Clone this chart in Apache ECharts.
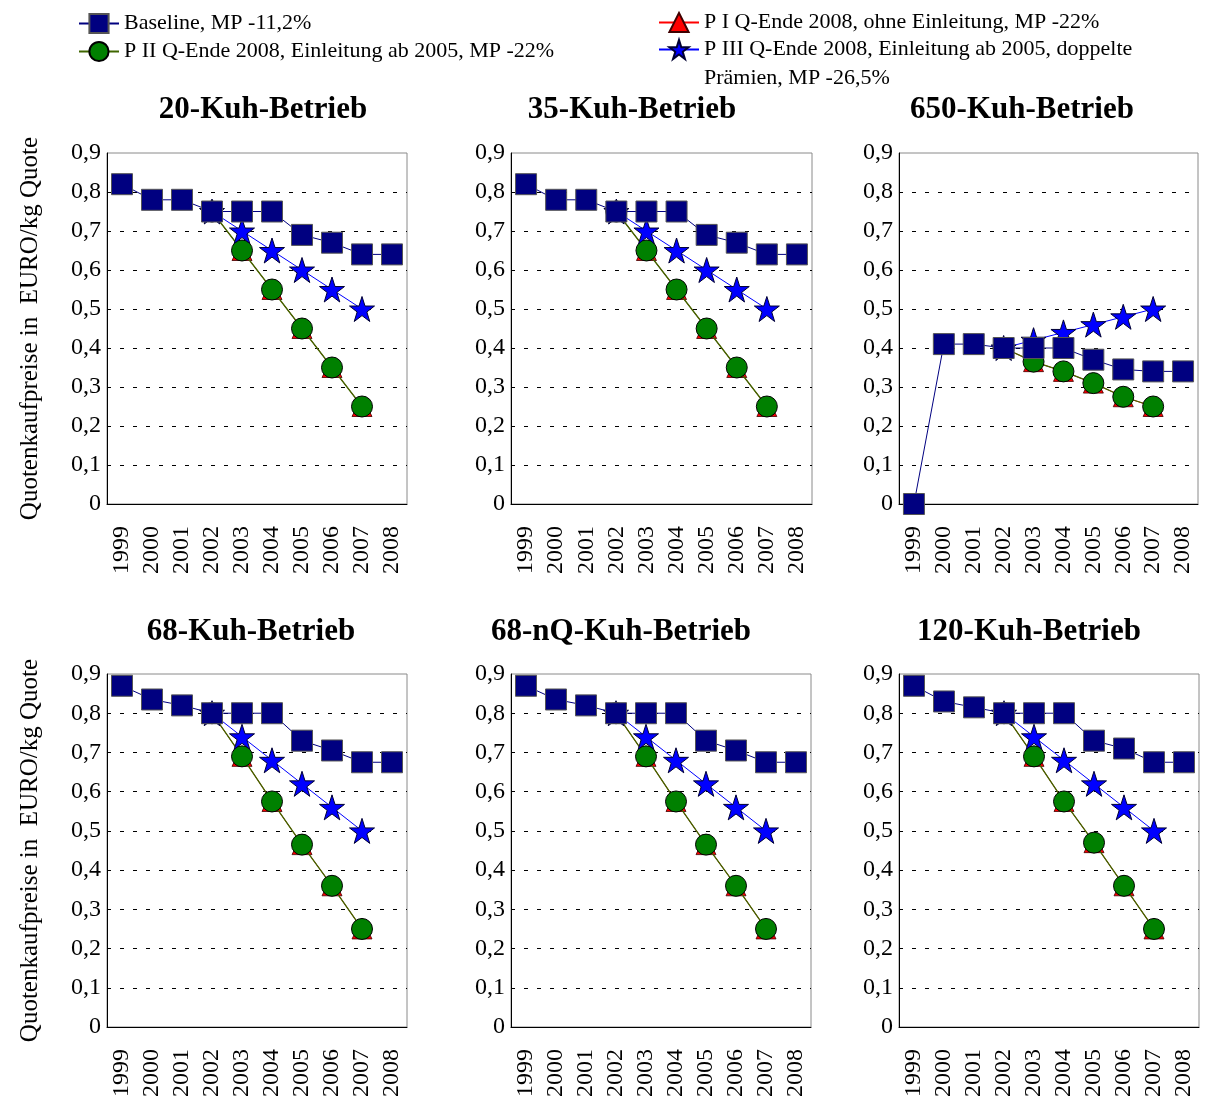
<!DOCTYPE html>
<html>
<head>
<meta charset="utf-8">
<script src="https://cdn.jsdelivr.net/npm/echarts@6/dist/echarts.min.js"></script>
<style>
  html, body { margin: 0; padding: 0; background: #fff; }
  #main { width: 1223px; height: 1102px; }
</style>
</head>
<body>
<div id="main"></div>
<script>
// Jahre (Kategorien)
var years = ['1999', '2000', '2001', '2002', '2003', '2004', '2005', '2006', '2007', '2008'];

// 20-Kuh-Betrieb
var base20 = [0.82, 0.78, 0.78, 0.75, 0.75, 0.75, 0.69, 0.67, 0.64, 0.64];
var pI20   = [null, null, null, 0.75, 0.65, 0.55, 0.45, 0.35, 0.25, null];
var pII20  = [null, null, null, 0.75, 0.65, 0.55, 0.45, 0.35, 0.25, null];
var pIII20 = [null, null, null, 0.75, 0.70, 0.65, 0.60, 0.55, 0.50, null];

// 35-Kuh-Betrieb
var base35 = [0.82, 0.78, 0.78, 0.75, 0.75, 0.75, 0.69, 0.67, 0.64, 0.64];
var pI35   = [null, null, null, 0.75, 0.65, 0.55, 0.45, 0.35, 0.25, null];
var pII35  = [null, null, null, 0.75, 0.65, 0.55, 0.45, 0.35, 0.25, null];
var pIII35 = [null, null, null, 0.75, 0.70, 0.65, 0.60, 0.55, 0.50, null];

// 650-Kuh-Betrieb
var base650 = [0.00, 0.41, 0.41, 0.40, 0.40, 0.40, 0.37, 0.345, 0.34, 0.34];
var pI650   = [null, null, null, 0.40, 0.365, 0.34, 0.31, 0.275, 0.25, null];
var pII650  = [null, null, null, 0.40, 0.365, 0.34, 0.31, 0.275, 0.25, null];
var pIII650 = [null, null, null, 0.40, 0.42, 0.44, 0.46, 0.48, 0.50, null];

// 68-Kuh-Betrieb
var base68 = [0.87, 0.835, 0.82, 0.80, 0.80, 0.80, 0.73, 0.705, 0.675, 0.675];
var pI68   = [null, null, null, 0.80, 0.69, 0.575, 0.465, 0.36, 0.25, null];
var pII68  = [null, null, null, 0.80, 0.69, 0.575, 0.465, 0.36, 0.25, null];
var pIII68 = [null, null, null, 0.80, 0.74, 0.68, 0.62, 0.56, 0.50, null];

// 68-nQ-Kuh-Betrieb
var base68nQ = [0.87, 0.835, 0.82, 0.80, 0.80, 0.80, 0.73, 0.705, 0.675, 0.675];
var pI68nQ   = [null, null, null, 0.80, 0.69, 0.575, 0.465, 0.36, 0.25, null];
var pII68nQ  = [null, null, null, 0.80, 0.69, 0.575, 0.465, 0.36, 0.25, null];
var pIII68nQ = [null, null, null, 0.80, 0.74, 0.68, 0.62, 0.56, 0.50, null];

// 120-Kuh-Betrieb
var base120 = [0.87, 0.83, 0.815, 0.80, 0.80, 0.80, 0.73, 0.71, 0.675, 0.675];
var pI120   = [null, null, null, 0.80, 0.69, 0.575, 0.47, 0.36, 0.25, null];
var pII120  = [null, null, null, 0.80, 0.69, 0.575, 0.47, 0.36, 0.25, null];
var pIII120 = [null, null, null, 0.80, 0.74, 0.68, 0.62, 0.56, 0.50, null];

var nameBase = 'Baseline, MP -11,2%';
var namePI   = 'P I Q-Ende 2008, ohne Einleitung, MP -22%';
var namePII  = 'P II Q-Ende 2008, Einleitung ab 2005, MP -22%';
var namePIII = 'P III Q-Ende 2008, Einleitung ab 2005, doppelte\nPrämien, MP -26,5%';
var yName = 'Quotenkaufpreise in  EURO/kg Quote';

var panels = [
    { title: '20-Kuh-Betrieb',    base: base20,   p1: pI20,   p2: pII20,   p3: pIII20 },
    { title: '35-Kuh-Betrieb',    base: base35,   p1: pI35,   p2: pII35,   p3: pIII35 },
    { title: '650-Kuh-Betrieb',   base: base650,  p1: pI650,  p2: pII650,  p3: pIII650 },
    { title: '68-Kuh-Betrieb',    base: base68,   p1: pI68,   p2: pII68,   p3: pIII68 },
    { title: '68-nQ-Kuh-Betrieb', base: base68nQ, p1: pI68nQ, p2: pII68nQ, p3: pIII68nQ },
    { title: '120-Kuh-Betrieb',   base: base120,  p1: pI120,  p2: pII120,  p3: pIII120 }
];

// Layout der sechs Diagramme
var boxes = [
    { left: 107, top: 153, width: 300, height: 351, tx: 263,  ty: 94 },
    { left: 511, top: 153, width: 301, height: 351, tx: 632,  ty: 94 },
    { left: 899, top: 153, width: 299, height: 351, tx: 1022, ty: 94 },
    { left: 107, top: 674, width: 300, height: 353, tx: 251,  ty: 616 },
    { left: 511, top: 674, width: 300, height: 353, tx: 621,  ty: 616 },
    { left: 899, top: 674, width: 300, height: 353, tx: 1029, ty: 616 }
];

var FONT = '"Liberation Serif", "Times New Roman", serif';
var STAR = 'path://M50,0 L61.8,35.5 L99,35.5 L69,57.5 L80.5,93 L50,71 L19.5,93 L31,57.5 L1,35.5 L38.2,35.5 Z';

var grids = [], xAxes = [], yAxes = [], titles = [], series = [];

panels.forEach(function (p, i) {
    var b = boxes[i];
    grids.push({
        left: b.left, top: b.top, width: b.width, height: b.height,
        show: true, borderColor: '#8a8a8a', borderWidth: 1
    });
    titles.push({
        text: p.title, left: b.tx, top: b.ty, textAlign: 'center', padding: 0,
        textStyle: { fontFamily: FONT, fontSize: 31, fontWeight: 'bold', color: '#000' }
    });
    xAxes.push({
        type: 'category', gridIndex: i, data: years, boundaryGap: true,
        axisLine: { lineStyle: { color: '#000', width: 1 } },
        axisTick: { alignWithLabel: true, length: 7, lineStyle: { color: '#000' } },
        axisLabel: { rotate: 90, interval: 0, margin: 22, fontFamily: FONT, fontSize: 24, color: '#000' }
    });
    yAxes.push({
        type: 'value', gridIndex: i, min: 0, max: 0.9, interval: 0.1,
        name: (i % 3 === 0) ? yName : '',
        nameLocation: 'middle', nameGap: 64,
        nameTextStyle: { fontFamily: FONT, fontSize: 25, color: '#000' },
        axisLine: { show: true, lineStyle: { color: '#000', width: 1 } },
        axisTick: { show: false },
        axisLabel: {
            margin: 6, fontFamily: FONT, fontSize: 24, color: '#000',
            formatter: function (v) { return String(Math.round(v * 10) / 10).replace('.', ','); }
        },
        splitLine: {
            show: true, showMinLine: false, showMaxLine: false,
            lineStyle: { color: '#000', width: 1, type: [4, 9] }
        }
    });

    series.push({
        name: namePI, type: 'line', xAxisIndex: i, yAxisIndex: i, data: p.p1,
        symbol: 'triangle', symbolSize: 20, z: 2,
        lineStyle: { color: '#ff0000', width: 1 },
        itemStyle: { color: '#ff0000', borderColor: '#400000', borderWidth: 0.8 }
    });
    series.push({
        name: namePII, type: 'line', xAxisIndex: i, yAxisIndex: i, data: p.p2,
        symbol: 'circle', symbolSize: 21, z: 3,
        lineStyle: { color: '#3f6600', width: 1.3 },
        itemStyle: { color: '#008000', borderColor: '#000', borderWidth: 1 }
    });
    series.push({
        name: namePIII, type: 'line', xAxisIndex: i, yAxisIndex: i, data: p.p3,
        symbol: STAR, symbolSize: 25, z: 4,
        lineStyle: { color: '#0000ff', width: 1 },
        itemStyle: { color: '#0000ff', borderColor: '#000033', borderWidth: 1 }
    });
    series.push({
        name: nameBase, type: 'line', xAxisIndex: i, yAxisIndex: i, data: p.base,
        symbol: 'rect', symbolSize: 21, z: 5,
        lineStyle: { color: '#000080', width: 1 },
        itemStyle: { color: '#000080', borderColor: '#555', borderWidth: 1 }
    });
});

var legendText = { fontFamily: FONT, fontSize: 22, color: '#000', lineHeight: 29 };
function oneLegend(name, left, top, formatter) {
    var lg = {
        data: [name], left: left, top: top, orient: 'vertical',
        itemWidth: 40, itemHeight: 24, itemGap: 0, selectedMode: false,
        textStyle: legendText, padding: 0
    };
    if (formatter) { lg.formatter = formatter; }
    return lg;
}

var option = {
    backgroundColor: '#fff',
    animation: false,
    title: titles,
    legend: [
        oneLegend(nameBase, 78, 9),
        oneLegend(namePII, 78, 37),
        oneLegend(namePI, 658, 8),
        // leere erste Zeile, damit das Symbol auf Höhe der ersten Textzeile sitzt
        oneLegend(namePIII, 658, 6, function (n) { return ' \n' + n; })
    ],
    grid: grids,
    xAxis: xAxes,
    yAxis: yAxes,
    series: series
};

var chart = echarts.init(document.getElementById('main'));
chart.setOption(option);
</script>
</body>
</html>
